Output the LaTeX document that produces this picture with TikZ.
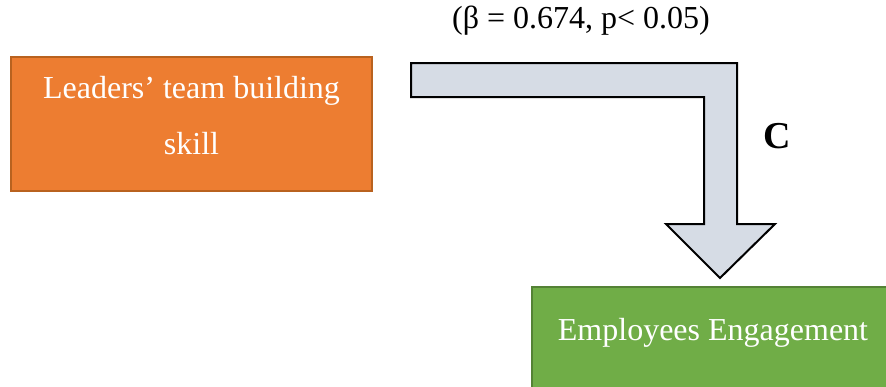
\documentclass[tikz,border=0pt]{standalone}
\usepackage{fontspec}
\setmainfont{Liberation Serif}
\usepackage{tikz}
\usetikzlibrary{positioning}

\definecolor{skillfill}{HTML}{ED7D31}
\definecolor{skillline}{HTML}{B9621F}
\definecolor{engfill}{HTML}{70AD47}
\definecolor{engline}{HTML}{548235}
\definecolor{arrowfill}{HTML}{D6DCE5}

\tikzset{
 varbox/.style={draw,line width=1.5,inner sep=0pt},
 vartext/.style={text=white,align=center,inner sep=0pt,font=\fontsize{32}{56}\selectfont},
}

\begin{document}
\begin{tikzpicture}[x=1pt,y=-1pt]
 \useasboundingbox (0,0) rectangle (886,386);
 \clip (0,0) rectangle (886,386);

 % the two variables
 \node [varbox,fill=skillfill,draw=skillline,minimum width=361,minimum height=134] (skill) at (191.5,124) {};
 \node [vartext] (skilltext) at ([yshift=8]skill.center) {Leaders’ team building\\skill};
 \node [varbox,fill=engfill,draw=engline,minimum width=362,minimum height=104] (eng) at (713,339) {};
 \node [vartext] (engtext) at ([yshift=6]eng.center) {Employees Engagement};

 % bent block arrow
 \coordinate (s0) at (411,63);
 \coordinate (tip) at (720,278);
 \draw[line width=2,fill=arrowfill,line join=miter]
  (s0) -- (737,63) -- (737,224) -- (775,224) -- (tip) -- (666,224)
  -- (704,224) -- (704,97) -- (411,97) -- cycle;

 \draw (581,21) node[font=\fontsize{32}{36}\selectfont] (coef) {(β = 0.674, p< 0.05)};
 \draw (777,136) node[font=\fontsize{38}{40}\selectfont\bfseries] (path) {C};

\end{tikzpicture}
\end{document}
